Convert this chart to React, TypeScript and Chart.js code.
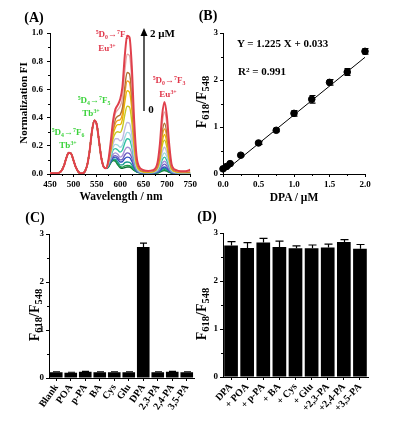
import React, { useEffect, useRef } from 'react';
import Chart from 'chart.js/auto';

const SERIF = "'Liberation Serif', 'Times New Roman', serif";

// ---------- Panel A: spectra ----------
const tbWavelengths = [450, 460, 470, 475, 480, 485, 490, 495, 500, 505, 510, 515, 520, 525, 530, 535, 540, 545, 550, 555, 560, 565, 570];
const tbIntensity = [0.005, 0.005, 0.01, 0.025, 0.06, 0.115, 0.15, 0.145, 0.10, 0.05, 0.018, 0.006, 0.006, 0.02, 0.07, 0.17, 0.31, 0.38, 0.35, 0.23, 0.11, 0.05, 0.04];
const euWavelengths = [575, 580, 585, 590, 595, 600, 605, 610, 615, 620, 625, 630, 635, 640, 650, 660, 670, 680, 685, 690, 695, 700, 705, 710, 720, 730, 740, 750];

const euDarkGreen = [.05, .08, .095, .09, .065, .045, .04, .045, .05, .05, .04, .025, .015, .01, .005, .005, .005, .008, .014, .021, .025, .02, .012, .006, .003, .003, .003, .003];
const euGreen = [.05, .08, .10, .095, .072, .052, .048, .057, .06, .059, .047, .028, .016, .01, .006, .005, .006, .009, .016, .026, .03, .025, .015, .007, .004, .003, .003, .003];
const euTeal = [.055, .085, .105, .105, .085, .065, .065, .08, .085, .083, .065, .037, .018, .012, .007, .006, .007, .011, .02, .034, .04, .033, .019, .008, .005, .004, .004, .004];
const euBlue = [.06, .09, .115, .12, .105, .085, .088, .11, .12, .117, .09, .05, .022, .013, .008, .007, .008, .013, .024, .042, .05, .04, .023, .01, .006, .005, .005, .005];
const euPurpleBlue = [.063, .10, .125, .13, .12, .10, .105, .135, .15, .145, .115, .06, .027, .014, .008, .007, .008, .016, .032, .058, .07, .056, .032, .013, .006, .005, .005, .005];
const euLightPurple = [.066, .105, .14, .15, .14, .12, .13, .17, .19, .185, .145, .075, .032, .016, .009, .008, .009, .02, .04, .075, .09, .072, .04, .016, .007, .006, .006, .006];
const euTealGreen = [.07, .12, .17, .18, .17, .155, .17, .22, .25, .245, .19, .10, .04, .02, .01, .009, .011, .025, .052, .10, .12, .095, .052, .02, .009, .007, .007, .007];
const euLightCyan = [.075, .13, .19, .21, .205, .19, .205, .26, .295, .29, .23, .12, .047, .022, .011, .01, .012, .03, .065, .125, .15, .12, .065, .025, .01, .008, .008, .008];
const euLavender = [.08, .145, .215, .25, .25, .235, .25, .32, .365, .36, .28, .145, .055, .025, .012, .011, .013, .035, .08, .155, .19, .15, .08, .03, .012, .009, .009, .009];
const euYellowGreen = [.085, .16, .25, .29, .30, .295, .33, .42, .48, .475, .37, .19, .067, .03, .014, .012, .015, .042, .10, .20, .24, .19, .10, .035, .015, .011, .011, .011];
const euGold = [.088, .17, .28, .33, .35, .35, .39, .51, .59, .58, .46, .23, .08, .036, .016, .014, .017, .05, .12, .23, .28, .225, .12, .04, .016, .012, .012, .012];
const euOrange = [.09, .18, .30, .36, .38, .385, .43, .57, .66, .65, .51, .26, .09, .04, .018, .016, .019, .055, .135, .265, .32, .26, .135, .045, .018, .014, .014, .014];
const euBrown = [.092, .19, .32, .39, .41, .42, .47, .62, .72, .71, .56, .28, .10, .045, .02, .018, .021, .06, .15, .30, .36, .29, .15, .05, .02, .015, .015, .016];
const euPink = [.095, .21, .35, .43, .455, .48, .54, .73, .85, .84, .66, .33, .115, .05, .025, .02, .024, .07, .18, .36, .44, .355, .18, .06, .024, .018, .018, .022];
const euRed = [.10, .23, .38, .46, .49, .53, .62, .84, .98, .97, .76, .38, .13, .055, .028, .022, .027, .08, .21, .42, .51, .41, .21, .07, .027, .02, .02, .03];

const spectraCurves = [euDarkGreen, euGreen, euTeal, euBlue, euPurpleBlue, euLightPurple, euTealGreen, euLightCyan, euLavender, euYellowGreen, euGold, euOrange, euBrown, euPink, euRed];
const spectraColors = ['#0b6b35', '#1f9e4a', '#1a9a90', '#3050c0', '#6a5cc0', '#a890d8', '#30c0a0', '#a0d8e0', '#c0b8e0', '#c8c820', '#e8b800', '#f0a020', '#b07030', '#e8a8a8', '#e0404c'];

// ---------- Panel B: calibration ----------
const dpaConc = [0, 0.05, 0.1, 0.25, 0.5, 0.75, 1.0, 1.25, 1.5, 1.75, 2.0];
const ratioB = [0.11, 0.16, 0.22, 0.40, 0.66, 0.93, 1.29, 1.59, 1.95, 2.17, 2.61];
const ratioBErr = [0.02, 0.02, 0.02, 0.02, 0.03, 0.03, 0.06, 0.08, 0.06, 0.07, 0.06];
const fitX = [0, 2.0];
const fitY = [0.033, 2.483];

// ---------- Panel C: selectivity ----------
const cLabels = ['Blank', 'POA', 'p-PA', 'BA', 'Cys', 'Glu', 'DPA', '2,3-PA', '2,4-PA', '3,5-PA'];
const cValues = [0.12, 0.11, 0.13, 0.12, 0.12, 0.12, 2.73, 0.12, 0.13, 0.12];
const cErr = [0.01, 0.01, 0.01, 0.01, 0.01, 0.01, 0.08, 0.01, 0.01, 0.01];

// ---------- Panel D: interference ----------
const dLabels = ['DPA', '+ POA', '+ p-PA', '+ BA', '+ Cys', '+ Glu', '+2,3-PA', '+2,4-PA', '+3,5-PA'];
const dValues = [2.74, 2.69, 2.80, 2.71, 2.68, 2.68, 2.70, 2.81, 2.67];
const dErr = [0.08, 0.11, 0.09, 0.12, 0.05, 0.07, 0.07, 0.05, 0.09];

const tickFont = { family: SERIF, size: 9, weight: 'bold' as const };

const minorTicksPlugin = {
  id: 'minorTicks',
  afterDraw(chart: any, _a: any, opts: any) {
    const ctx = chart.ctx;
    const len = opts.length ?? 2;
    ctx.save();
    ctx.strokeStyle = '#000';
    ctx.lineWidth = 1;
    (opts.x || []).forEach((v: number) => {
      const px = Math.round(chart.scales.x.getPixelForValue(v)) + 0.5;
      const y0 = chart.chartArea.bottom;
      ctx.beginPath(); ctx.moveTo(px, y0); ctx.lineTo(px, y0 + len); ctx.stroke();
    });
    (opts.y || []).forEach((v: number) => {
      const py = Math.round(chart.scales.y.getPixelForValue(v)) + 0.5;
      const x0 = chart.chartArea.left;
      ctx.beginPath(); ctx.moveTo(x0, py); ctx.lineTo(x0 - len, py); ctx.stroke();
    });
    ctx.restore();
  },
};

const errorBarsPlugin = {
  id: 'errorBars',
  afterDatasetsDraw(chart: any, _a: any, opts: any) {
    if (!opts || !opts.errors) return;
    const di = opts.datasetIndex ?? 0;
    const meta = chart.getDatasetMeta(di);
    const ys = chart.scales.y;
    const ctx = chart.ctx;
    const cap = opts.cap ?? 3;
    ctx.save();
    ctx.strokeStyle = '#000';
    ctx.lineWidth = 1.2;
    meta.data.forEach((el: any, i: number) => {
      const raw = chart.data.datasets[di].data[i];
      const v = typeof raw === 'number' ? raw : raw.y;
      const e = opts.errors[i];
      if (!e) return;
      const x = Math.round(el.x) + 0.5;
      const yTop = ys.getPixelForValue(v + e);
      const yBot = opts.both ? ys.getPixelForValue(v - e) : el.y;
      ctx.beginPath();
      ctx.moveTo(x, yBot); ctx.lineTo(x, yTop);
      ctx.moveTo(x - cap, yTop); ctx.lineTo(x + cap, yTop);
      if (opts.both) { ctx.moveTo(x - cap, yBot); ctx.lineTo(x + cap, yBot); }
      ctx.stroke();
    });
    ctx.restore();
  },
};

function axisBase(extra: any, ticks: any, size: { w?: number; h?: number }) {
  return {
    ...extra,
    grid: { display: true, drawOnChartArea: false, drawTicks: true, tickLength: 3, tickColor: '#000', tickWidth: 1, offset: false },
    border: { display: true, color: '#000', width: 1 },
    ticks: { color: '#000', font: tickFont, padding: 2, ...ticks },
    afterFit: (s: any) => {
      if (size.w !== undefined) s.width = size.w;
      if (size.h !== undefined) s.height = size.h;
    },
  };
}

const commonPlugins = { legend: { display: false }, tooltip: { enabled: false }, title: { display: false } };

function cfgA(): any {
  const datasets = spectraCurves.map((curve, k) => ({
    data: tbWavelengths.map((w, i) => ({ x: w, y: tbIntensity[i] })).concat(euWavelengths.map((w, i) => ({ x: w, y: curve[i] }))),
    borderColor: spectraColors[k],
    borderWidth: k === spectraCurves.length - 1 ? 2 : 1.4,
    pointRadius: 0,
    cubicInterpolationMode: 'monotone',
    fill: false,
  })).reverse();
  return {
    type: 'line',
    data: { datasets },
    plugins: [minorTicksPlugin],
    options: {
      responsive: false, animation: false, events: [],
      layout: { padding: { left: 30, top: 33, right: 8, bottom: 16 } },
      plugins: { ...commonPlugins, minorTicks: { length: 2, x: [475, 525, 575, 625, 675, 725], y: [0.1, 0.3, 0.5, 0.7, 0.9] } },
      scales: {
        x: axisBase({ type: 'linear', min: 450, max: 750 }, { stepSize: 50 }, { h: 20 }),
        y: axisBase({ min: 0, max: 1 }, { stepSize: 0.2, padding: 4, callback: (v: number) => v.toFixed(1) }, { w: 20 }),
      },
    },
  };
}

function cfgB(): any {
  return {
    type: 'scatter',
    data: {
      datasets: [
        { data: dpaConc.map((x, i) => ({ x, y: ratioB[i] })), backgroundColor: '#000', borderColor: '#000', pointRadius: 3.3, clip: false },
        { type: 'line', data: fitX.map((x, i) => ({ x, y: fitY[i] })), borderColor: '#000', borderWidth: 1, pointRadius: 0, showLine: true, fill: false },
      ],
    },
    plugins: [minorTicksPlugin, errorBarsPlugin],
    options: {
      responsive: false, animation: false, events: [],
      layout: { padding: { left: 10, top: 33, right: 34, bottom: 16 } },
      plugins: { ...commonPlugins, minorTicks: { length: 2, x: [0.25, 0.75, 1.25, 1.75], y: [0.5, 1.5, 2.5] }, errorBars: { datasetIndex: 0, errors: ratioBErr, both: true, cap: 3 } },
      scales: {
        x: axisBase({ type: 'linear', min: 0, max: 2 }, { stepSize: 0.5, callback: (v: number) => v.toFixed(1) }, { h: 20 }),
        y: axisBase({ min: 0, max: 3 }, { stepSize: 1 }, { w: 14 }),
      },
    },
  };
}

function cfgBar(labels: string[], values: number[], errs: number[], pad: any, xh: number, rot: number, barPct: number, cap: number): any {
  return {
    type: 'bar',
    data: { labels, datasets: [{ data: values, backgroundColor: '#000', borderWidth: 0, barPercentage: barPct, categoryPercentage: 1 }] },
    plugins: [minorTicksPlugin, errorBarsPlugin],
    options: {
      responsive: false, animation: false, events: [],
      layout: { padding: pad },
      plugins: { ...commonPlugins, minorTicks: { length: 2, y: [0.5, 1.5, 2.5] }, errorBars: { datasetIndex: 0, errors: errs, both: false, cap } },
      scales: {
        x: axisBase({ type: 'category' }, { autoSkip: false, minRotation: rot, maxRotation: rot, padding: 1, font: { family: SERIF, size: 10, weight: 'bold' } }, { h: xh }),
        y: axisBase({ min: 0, max: 3 }, { stepSize: 1 }, { w: 14 }),
      },
    },
  };
}

const Sup = ({ c }: { c: string }) => <span style={{ fontSize: '0.65em', position: 'relative', top: '-0.45em' }}>{c}</span>;
const Sub = ({ c, s = '0.65em' }: { c: string; s?: string }) => <span style={{ fontSize: s, position: 'relative', top: '0.28em' }}>{c}</span>;

function Txt({ x, y, size = 11, color = '#000', rot = false, left = false, children }: any) {
  return (
    <div style={{ position: 'absolute', left: x, top: y, transform: `translate(${left ? '0' : '-50%'},-50%)${rot ? ' rotate(-90deg)' : ''}`, fontSize: size, color, whiteSpace: 'nowrap', lineHeight: 1 }}>
      {children}
    </div>
  );
}

const RED = '#e0364a';
const GREEN = '#3ad23a';

function Trans({ a, b, c, d }: { a: string; b: string; c: string; d: string }) {
  return (<><Sup c={a} />D<Sub c={b} />→<Sup c={c} />F<Sub c={d} /></>);
}

function Ratio() {
  return (<>F<Sub c="618" s="0.75em" />/F<Sub c="548" s="0.75em" /></>);
}

export default function App() {
  const refA = useRef<HTMLCanvasElement>(null);
  const refB = useRef<HTMLCanvasElement>(null);
  const refC = useRef<HTMLCanvasElement>(null);
  const refD = useRef<HTMLCanvasElement>(null);

  useEffect(() => {
    const charts = [
      new Chart(refA.current!, cfgA()),
      new Chart(refB.current!, cfgB()),
      new Chart(refC.current!, cfgBar(cLabels, cValues, cErr, { left: 35, top: 24, right: 5, bottom: 0 }, 50, 55, 0.87, 3.5)),
      new Chart(refD.current!, cfgBar(dLabels, dValues, dErr, { left: 10, top: 23, right: 31, bottom: 0 }, 51, 47, 0.85, 4)),
    ];
    return () => charts.forEach((c) => c.destroy());
  }, []);

  return (
    <div style={{ position: 'absolute', left: 0, top: 0, width: 399, height: 428, background: '#fff', fontFamily: SERIF, fontWeight: 'bold', color: '#000', overflow: 'hidden' }}>
      <canvas ref={refA} width={199} height={210} style={{ position: 'absolute', left: 0, top: 0 }} />
      <canvas ref={refB} width={200} height={210} style={{ position: 'absolute', left: 199, top: 0 }} />
      <canvas ref={refC} width={199} height={218} style={{ position: 'absolute', left: 0, top: 210 }} />
      <canvas ref={refD} width={200} height={218} style={{ position: 'absolute', left: 199, top: 210 }} />

      {/* Panel labels */}
      <Txt x={34} y={18} size={14}>(A)</Txt>
      <Txt x={208} y={16} size={14}>(B)</Txt>
      <Txt x={35} y={218} size={14}>(C)</Txt>
      <Txt x={207} y={217} size={14}>(D)</Txt>

      {/* Panel A texts */}
      <Txt x={23} y={103} size={11} rot>Normalization FI</Txt>
      <Txt x={121} y={197} size={11.5}>Wavelength / nm</Txt>
      <Txt x={112} y={34} size={9} color={RED}><Trans a="5" b="0" c="7" d="2" /></Txt>
      <Txt x={107} y={48} size={9} color={RED}>Eu<Sup c="3+" /></Txt>
      <Txt x={169} y={80} size={9} color={RED}><Trans a="5" b="0" c="7" d="3" /></Txt>
      <Txt x={168} y={94} size={9} color={RED}>Eu<Sup c="3+" /></Txt>
      <Txt x={94} y={100} size={9} color={GREEN}><Trans a="5" b="4" c="7" d="5" /></Txt>
      <Txt x={91} y={113} size={9} color={GREEN}>Tb<Sup c="3+" /></Txt>
      <Txt x={68} y={132} size={9} color={GREEN}><Trans a="5" b="4" c="7" d="6" /></Txt>
      <Txt x={68} y={145} size={9} color={GREEN}>Tb<Sup c="3+" /></Txt>
      <svg style={{ position: 'absolute', left: 138, top: 26 }} width={12} height={88}>
        <line x1={6} y1={7} x2={6} y2={85} stroke="#000" strokeWidth={1.3} />
        <polygon points="2.5,10 9.5,10 6,2" fill="#000" />
      </svg>
      <Txt x={150} y={33} size={11} left>2 μM</Txt>
      <Txt x={151} y={109} size={11}>0</Txt>

      {/* Panel B texts */}
      <Txt x={202} y={102} size={14} rot><Ratio /></Txt>
      <Txt x={294} y={198} size={11.5}>DPA / μM</Txt>
      <Txt x={237} y={43} size={11} left>Y = 1.225 X + 0.033</Txt>
      <Txt x={238} y={72} size={11} left>R<Sup c="2" /> = 0.991</Txt>

      {/* Panel C / D titles */}
      <Txt x={35} y={315} size={14} rot><Ratio /></Txt>
      <Txt x={202} y={314} size={14} rot><Ratio /></Txt>
    </div>
  );
}
